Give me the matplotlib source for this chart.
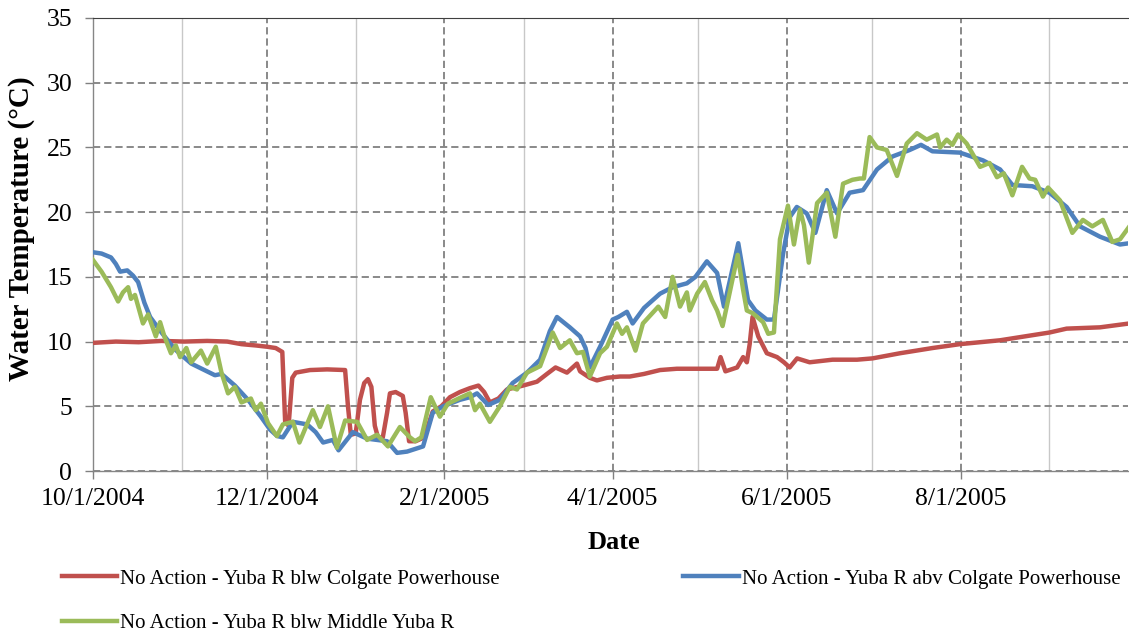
import numpy as np
import pandas as pd
import matplotlib
matplotlib.use("Agg")
import matplotlib.pyplot as plt

plt.rcParams['font.family'] = ['Liberation Serif', 'DejaVu Serif']

# days since 10/1/2004 and water temperature (deg C)
red_day = [0, 8, 16, 24, 32, 40, 47, 52, 57, 61, 64, 66.3, 67.3, 68.5, 69.8, 71, 76, 82, 88.3,
           89.3, 90.3, 92, 93.5, 95, 96.3, 97.5, 98.7, 99.8, 101.5, 103, 104, 106, 108.5, 109.5,
           110.7, 113, 116, 119, 122, 125, 128.5, 132, 135, 137, 139, 142, 145, 150.6, 155.5,
           159, 162, 166, 169.5, 170.6, 174, 176.5, 180, 184.6, 188, 193, 198.6, 204.5, 211.5,
           218.6, 219.8, 221.5, 225.6, 227.7, 229, 230, 231, 233, 236, 239.6, 242, 244, 246.6,
           251, 259, 267.6, 273, 282.7, 294, 303.6, 317.7, 335, 341, 352.7, 363]
red_val = [9.9, 10.0, 9.95, 10.05, 10.0, 10.05, 10.0, 9.8, 9.7, 9.6, 9.5, 9.2, 3.8, 3.5, 7.2,
           7.6, 7.8, 7.85, 7.8, 5.0, 2.8, 2.9, 5.5, 6.8, 7.1, 6.5, 3.5, 2.6, 2.6, 4.5, 6.0, 6.1,
           5.8, 4.5, 2.3, 2.3, 2.6, 4.6, 5.0, 5.7, 6.1, 6.4, 6.6, 6.1, 5.3, 5.6, 6.3, 6.6, 6.9,
           7.5, 8.0, 7.6, 8.3, 7.7, 7.2, 7.0, 7.2, 7.3, 7.3, 7.5, 7.8, 7.9, 7.9, 7.9, 8.8, 7.7,
           8.0, 8.8, 8.4, 9.8, 11.9, 10.4, 9.1, 8.8, 8.4, 8.0, 8.7, 8.4, 8.6, 8.6, 8.7, 9.1, 9.5,
           9.8, 10.1, 10.7, 11.0, 11.1, 11.4]

blue_day = [0, 3, 6.3, 8, 9.5, 12, 14, 15.8, 18, 20, 24, 28.7, 34.4, 39, 42.7, 45, 49.7, 54.3,
            58.8, 62, 64.5, 66.5, 70, 75, 78, 80.6, 84, 86, 88.5, 91, 96, 99.5, 103, 106.5, 110,
            115.6, 119, 122.6, 128.5, 132, 134.5, 138.4, 142.5, 147, 152, 156.6, 160, 162.5, 167,
            170.6, 172.5, 174, 177.6, 182, 184, 187, 189, 193, 198.6, 203, 208, 211, 215, 218.6,
            221, 226, 229.4, 232, 236, 238.5, 241.7, 244, 246.5, 250, 253, 257, 260.6, 265, 269.7,
            274.6, 280, 286, 290, 294, 303.6, 311.7, 317.7, 322, 329, 335, 341, 345.7, 352.7,
            359.7, 363]
blue_val = [16.9, 16.8, 16.5, 16.0, 15.4, 15.5, 15.1, 14.6, 13.0, 11.9, 10.7, 9.4, 8.3, 7.8, 7.4,
            7.5, 6.6, 5.5, 4.2, 3.2, 2.7, 2.6, 3.8, 3.6, 3.0, 2.2, 2.4, 1.6, 2.3, 3.0, 2.5, 2.4,
            2.3, 1.4, 1.5, 1.9, 4.5, 5.0, 5.5, 5.7, 6.0, 5.1, 5.5, 6.8, 7.6, 8.6, 10.8, 11.9, 11.1,
            10.4, 9.5, 8.0, 9.6, 11.7, 11.9, 12.3, 11.4, 12.6, 13.7, 14.2, 14.5, 15.0, 16.2, 15.3,
            12.7, 17.6, 13.2, 12.4, 11.7, 11.7, 16.8, 19.6, 20.4, 19.9, 18.4, 21.7, 19.9, 21.5,
            21.7, 23.3, 24.3, 24.8, 25.2, 24.7, 24.6, 24.0, 23.3, 22.1, 22.0, 21.5, 20.4, 18.9,
            18.1, 17.5, 17.6]

green_day = [0, 3, 6.3, 8.8, 10.5, 12.3, 13.3, 14.7, 17.5, 19.3, 22, 23.5, 25, 27.3, 29, 30.5,
             32.7, 34.4, 37.8, 40, 43, 45, 47.3, 49.7, 52, 55.3, 57, 58.8, 61.3, 64.4, 66.5, 70,
             72.3, 77, 79.5, 82.3, 85.4, 88.3, 92.5, 96, 99.5, 103.3, 107.5, 111, 112.8, 115,
             118.3, 121.5, 124.3, 129, 132, 133.8, 135.5, 139, 142.5, 146, 148.5, 152, 156.6, 161,
             163.6, 167, 169.5, 171.6, 174, 177.6, 180, 183.5, 185.3, 187, 190, 192.6, 198, 200.4,
             203, 205.6, 208, 209, 211.6, 214.3, 216.8, 218.6, 220.5, 225.8, 227.7, 229, 231,
             234.7, 236.5, 238.5, 240.6, 243.4, 245.5, 247.6, 249, 250.7, 253.6, 257, 260, 262.7,
             266, 268.6, 270, 272, 274.6, 278, 281.6, 285, 288.6, 292, 295.6, 296.7, 299, 301,
             303, 306, 310.7, 314, 316.6, 319, 322, 325.4, 328, 330, 332.7, 334.5, 338.7, 343,
             346.7, 350, 353.7, 357, 359.7, 363]
green_val = [16.3, 15.4, 14.2, 13.1, 13.8, 14.2, 13.3, 13.6, 11.4, 12.1, 10.4, 11.5, 10.4, 9.1,
             9.7, 8.8, 9.5, 8.4, 9.3, 8.3, 9.6, 7.6, 6.0, 6.5, 5.3, 5.6, 4.7, 5.2, 3.7, 2.7, 3.6,
             3.8, 2.2, 4.7, 3.4, 5.0, 1.8, 3.9, 3.8, 2.4, 2.8, 1.9, 3.4, 2.6, 2.3, 2.6, 5.7, 4.2,
             5.2, 5.7, 6.0, 4.7, 5.2, 3.8, 5.0, 6.5, 6.3, 7.6, 8.1, 10.7, 9.5, 10.1, 9.1, 9.2, 7.3,
             9.1, 9.6, 11.4, 10.6, 11.1, 9.3, 11.4, 12.7, 11.9, 15.0, 12.7, 13.8, 12.4, 13.7, 14.6,
             13.2, 12.4, 11.2, 16.7, 14.0, 12.4, 12.2, 11.5, 10.6, 10.7, 17.9, 20.5, 17.5, 20.2,
             19.0, 16.1, 20.7, 21.5, 18.1, 22.2, 22.5, 22.6, 22.6, 25.8, 25.0, 24.8, 22.8, 25.3,
             26.1, 25.6, 26.0, 25.0, 25.6, 25.2, 26.0, 25.3, 23.5, 23.8, 22.7, 23.0, 21.3, 23.5,
             22.6, 22.5, 21.2, 21.9, 20.9, 18.4, 19.4, 18.9, 19.4, 17.7, 17.9, 18.9]

labels = ["No Action - Yuba R blw Colgate Powerhouse",
          "No Action - Yuba R abv Colgate Powerhouse",
          "No Action - Yuba R blw Middle Yuba R"]
major_dates = ["2004-10-01", "2004-12-01", "2005-02-01", "2005-04-01", "2005-06-01", "2005-08-01"]
major_labels = ["10/1/2004", "12/1/2004", "2/1/2005", "4/1/2005", "6/1/2005", "8/1/2005"]
minor_dates = ["2004-11-01", "2005-01-01", "2005-03-01", "2005-05-01", "2005-07-01", "2005-09-01"]

start = pd.Timestamp("2004-10-01")


def to_dates(days):
    return (start + pd.to_timedelta(np.array(days), unit="D")).to_numpy()


fig = plt.figure(figsize=(11.29, 6.32), dpi=100)
ax = fig.add_axes([93 / 1129, 161 / 632, 1035 / 1129, 453 / 632])

ln_red, = ax.plot(to_dates(red_day), red_val, color="#C0504D", lw=3.2, zorder=3)
ln_blue, = ax.plot(to_dates(blue_day), blue_val, color="#4F81BD", lw=3.2, zorder=4)
ln_green, = ax.plot(to_dates(green_day), green_val, color="#9BBB59", lw=3.2, zorder=5)

ax.set_xlim(start, start + pd.Timedelta(days=362.5))
ax.set_ylim(0, 35)
ax.set_yticks(np.arange(0, 36, 5))
ax.set_xticks(pd.to_datetime(major_dates).to_numpy())
ax.set_xticklabels(major_labels)
ax.set_xticks(pd.to_datetime(minor_dates).to_numpy(), minor=True)

ax.grid(axis="y", which="major", color="#808080", ls=(0, (4, 2.2)), lw=1.3, zorder=1)
ax.grid(axis="x", which="major", color="#808080", ls=(0, (4, 2.2)), lw=1.3, zorder=1)
ax.grid(axis="x", which="minor", color="#c8c8c8", ls="-", lw=1.0, zorder=1)

ax.tick_params(axis="both", which="major", labelsize=18.5, length=6, color="#808080", width=1)
ax.tick_params(axis="x", which="major", pad=6)
ax.tick_params(axis="y", which="major", pad=9)
ax.tick_params(axis="x", which="minor", length=0)

for side in ["left", "bottom"]:
    ax.spines[side].set_color("#868686")
    ax.spines[side].set_linewidth(1.0)
ax.spines["right"].set_visible(False)
ax.spines["top"].set_color("#404040")
ax.spines["top"].set_linewidth(0.8)

ax.set_ylabel("Water Temperature (°C)", fontsize=21, fontweight="bold")
ax.yaxis.set_label_coords(-0.0686, 0.534)
ax.yaxis.label.set_va("center")
ax.set_xlabel("Date", fontsize=19, fontweight="bold")
ax.xaxis.set_label_coords(0.503, -0.157)
ax.xaxis.label.set_va("center")

fig.legend([ln_red, ln_green, ln_blue], [labels[0], labels[2], labels[1]],
           ncol=2, loc="upper left", bbox_to_anchor=(62 / 1129, 1 - 569 / 632),
           frameon=False, fontsize=15, handlelength=2.65, handletextpad=0.15,
           columnspacing=8.8, labelspacing=1.2, borderpad=0, borderaxespad=0)

fig.savefig("out.png", dpi=100)
